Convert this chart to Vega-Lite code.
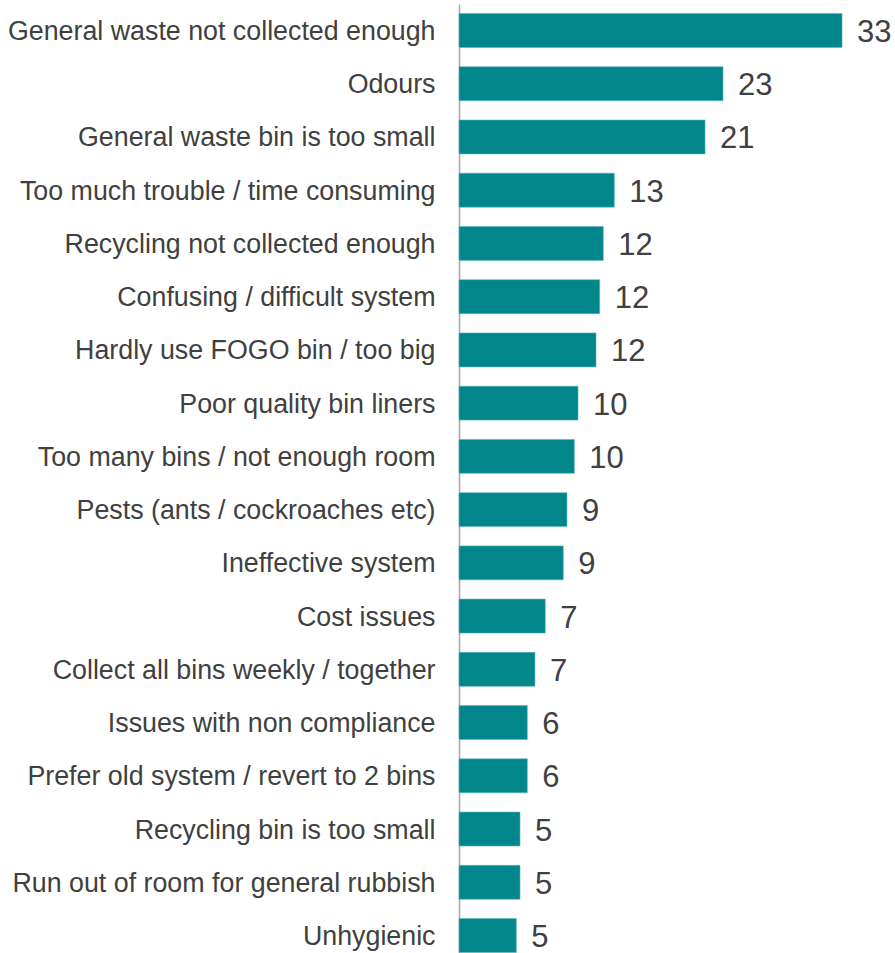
{
  "$schema": "https://vega.github.io/schema/vega-lite/v6.json",
  "autosize": "none",
  "width": 406,
  "height": 958,
  "padding": {"top": 4, "left": 459, "right": 30, "bottom": 0},
  "background": "white",
  "config": {"view": {"stroke": null}, "font": "Liberation Sans"},
  "data": {"values": [
    {"issue": "General waste not collected enough", "value": 33.02},
    {"issue": "Odours", "value": 22.76},
    {"issue": "General waste bin is too small", "value": 21.21},
    {"issue": "Too much trouble / time consuming", "value": 13.39},
    {"issue": "Recycling not collected enough", "value": 12.44},
    {"issue": "Confusing / difficult system", "value": 12.13},
    {"issue": "Hardly use FOGO bin / too big", "value": 11.81},
    {"issue": "Poor quality bin liners", "value": 10.26},
    {"issue": "Too many bins / not enough room", "value": 9.94},
    {"issue": "Pests (ants / cockroaches etc)", "value": 9.31},
    {"issue": "Ineffective system", "value": 8.99},
    {"issue": "Cost issues", "value": 7.44},
    {"issue": "Collect all bins weekly / together", "value": 6.55},
    {"issue": "Issues with non compliance", "value": 5.89},
    {"issue": "Prefer old system / revert to 2 bins", "value": 5.89},
    {"issue": "Recycling bin is too small", "value": 5.26},
    {"issue": "Run out of room for general rubbish", "value": 5.26},
    {"issue": "Unhygienic", "value": 4.94}
  ]},
  "encoding": {
    "y": {
      "field": "issue", "type": "nominal", "sort": null,
      "scale": {"paddingInner": 0.362, "paddingOuter": 0.178},
      "axis": {
        "title": null, "ticks": false, "tickSize": 0, "labelPadding": 24,
        "labelFontSize": 26.8, "labelColor": "#404040", "labelLimit": 600,
        "labelFont": "Liberation Sans", "labelOffset": 1.5,
        "domainColor": "#a6a6a6", "domainWidth": 1.5, "grid": false
      }
    },
    "x": {
      "field": "value", "type": "quantitative",
      "scale": {"domain": [0, 35], "nice": false},
      "axis": null
    }
  },
  "layer": [
    {"mark": {"type": "bar", "color": "#00868b", "stroke": "#5fb5b9", "strokeWidth": 0.6}},
    {"mark": {"type": "text", "align": "left", "baseline": "middle", "dx": 15, "dy": 2.5, "fontSize": 31, "color": "#404040", "font": "Liberation Sans"},
     "encoding": {"text": {"field": "value", "type": "quantitative", "format": ".0f"}}}
  ]
}
